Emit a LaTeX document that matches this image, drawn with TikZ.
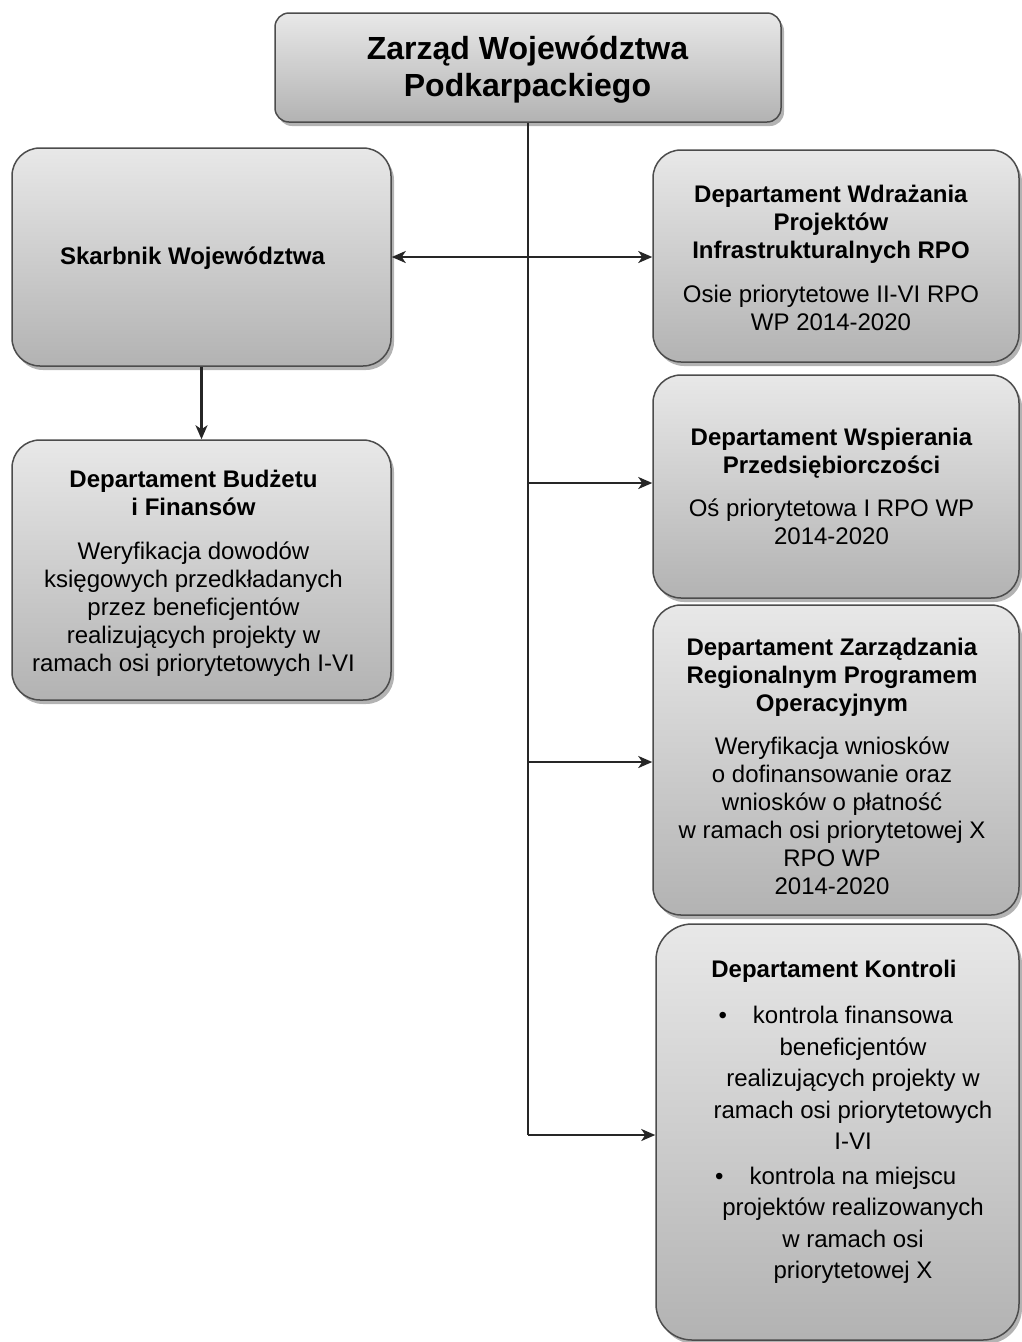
\documentclass[tikz,border=0pt]{standalone}
\usepackage{fontspec}
\setmainfont{Liberation Sans}
\usetikzlibrary{arrows.meta,shadows}
\tikzset{
  box/.style={draw=black!70, line width=1.5pt, rounded corners=28pt,
    top color=black!9, bottom color=black!30, inner sep=0pt,
    drop shadow={shadow xshift=3pt, shadow yshift=-4pt, fill=black!50, opacity=0.6}},
  txt/.style={align=center, inner sep=0pt, font=\fontsize{24}{28}\selectfont},
  conn/.style={line width=2.3pt, draw=black!85},
  tip/.tip={Stealth[length=14pt,width=12pt,inset=4pt]},
  arr/.style={conn, -tip},
}
\begin{document}
\begin{tikzpicture}[x=1pt,y=-1pt]
\useasboundingbox (0,0) rectangle (1021,1342);
% boxes
\node[box, rounded corners=14pt, minimum width=506pt, minimum height=109pt] (top) at (528,67.5) {};
\node[box, minimum width=379pt, minimum height=218pt] (skarb) at (201.5,257) {};
\node[box, minimum width=379pt, minimum height=260pt] (budz) at (201.5,570) {};
\node[box, minimum width=366pt, minimum height=212pt] (r1) at (836,256) {};
\node[box, minimum width=366pt, minimum height=223pt] (r2) at (836,486.5) {};
\node[box, minimum width=366pt, minimum height=310pt] (r3) at (836,760) {};
\node[box, rounded corners=36pt, minimum width=363pt, minimum height=416pt] (r4) at (837.5,1132) {};
% texts
\node[txt, font=\fontsize{32}{37}\selectfont\bfseries] (ttop) at (527.5,70) {Zarząd Województwa\\Podkarpackiego};
\node[txt, font=\fontsize{24}{28}\selectfont\bfseries] (tskarb) at (192.5,258) {Skarbnik Województwa};
\node[txt] (tbudz) at (193.5,573) {\textbf{Departament Budżetu}\\\textbf{i Finansów}\\[16pt]
  Weryfikacja dowodów\\księgowych przedkładanych\\przez beneficjentów\\realizujących projekty w\\ramach osi priorytetowych I-VI};
\node[txt] (tr1) at (831,258) {\textbf{Departament Wdrażania}\\\textbf{Projektów}\\\textbf{Infrastrukturalnych RPO}\\[16pt]
  Osie priorytetowe II-VI RPO\\WP 2014-2020};
\node[txt] (tr2) at (831.5,486) {\textbf{Departament Wspierania}\\\textbf{Przedsiębiorczości}\\[15pt]
  Oś priorytetowa I RPO WP\\2014-2020};
\node[txt] (tr3) at (832,766) {\textbf{Departament Zarządzania}\\\textbf{Regionalnym Programem}\\\textbf{Operacyjnym}\\[15pt]
  Weryfikacja wniosków\\o dofinansowanie oraz\\wniosków o płatność\\w ramach osi priorytetowej X\\RPO WP\\2014-2020};
\node[txt, font=\fontsize{24}{28}\selectfont\bfseries] (tr4a) at (834,971) {Departament Kontroli};
\node[txt, font=\fontsize{24}{31.5}\selectfont] (tr4b) at (853,1145) {\llap{•\hspace{26pt}}kontrola finansowa\\beneficjentów\\realizujących projekty w\\ramach osi priorytetowych\\I-VI\\[3pt]
  \llap{•\hspace{26pt}}kontrola na miejscu\\projektów realizowanych\\w ramach osi\\priorytetowej X};
% connectors
\coordinate (j2) at (528,483);
\coordinate (j3) at (528,762);
\coordinate (j4) at (528,1135);
\draw[conn] (top.south) -- (j4);
\draw[conn, tip-tip] (skarb.east) -- (skarb.east -| r1.west);
\draw[arr] (j2) -- (j2 -| r2.west);
\draw[arr] (j3) -- (j3 -| r3.west);
\draw[arr] (j4) -- (j4 -| r4.west);
\draw[arr] (skarb.south) -- (budz.north);
\end{tikzpicture}
\end{document}
